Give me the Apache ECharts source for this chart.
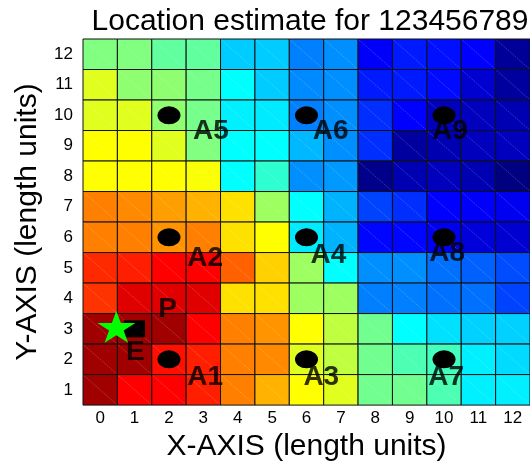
<!DOCTYPE html>
<html><head><meta charset="utf-8">
<script src="https://cdn.jsdelivr.net/npm/echarts@6/dist/echarts.min.js"></script>
<style>html,body{margin:0;padding:0;background:#fff}#c{width:530px;height:467px}</style>
</head><body><div id="c"></div>
<script>
// ---- data ----
const titleText = 'Location estimate for 123456789';
const xCategories = ['0','1','2','3','4','5','6','7','8','9','10','11','12'];
const yCategories = ['1','2','3','4','5','6','7','8','9','10','11','12'];
// jet-scale value per cell (0 = dark blue, 1 = dark red); rows from y=12 (top) to y=1 (bottom), columns x=0..12
const row12 = [0.50,0.50,0.47,0.47,0.325,0.325,0.25,0.265,0.12,0.15,0.14,0.125,0.025];
const row11 = [0.595,0.515,0.515,0.49,0.375,0.325,0.26,0.265,0.15,0.15,0.135,0.08,0.03];
const row10 = [0.595,0.595,0.515,0.49,0.36,0.355,0.25,0.265,0.17,0.125,0.06,0.06,0.05];
const row9  = [0.625,0.625,0.595,0.50,0.375,0.375,0.305,0.265,0.17,0.03,0.05,0.06,0.06];
const row8  = [0.625,0.625,0.625,0.62,0.375,0.42,0.265,0.275,0.01,0.05,0.06,0.05,0.0];
const row7  = [0.75,0.74,0.72,0.70,0.655,0.53,0.375,0.30,0.19,0.17,0.125,0.12,0.11];
const row6  = [0.75,0.75,0.73,0.75,0.655,0.625,0.355,0.30,0.13,0.13,0.11,0.09,0.08];
const row5  = [0.835,0.845,0.875,0.875,0.78,0.67,0.53,0.375,0.265,0.265,0.235,0.22,0.20];
const row4  = [0.825,0.905,0.905,0.905,0.655,0.655,0.53,0.53,0.25,0.25,0.235,0.235,0.19];
const row3  = [0.9675,0.9675,0.9675,0.875,0.75,0.73,0.625,0.5625,0.485,0.375,0.345,0.33,0.33];
const row2  = [0.9675,0.9675,0.86,0.845,0.75,0.74,0.595,0.5625,0.485,0.45,0.44,0.36,0.34];
const row1  = [0.9675,0.875,0.875,0.845,0.75,0.70,0.625,0.595,0.485,0.485,0.45,0.36,0.36];
const gridRows = [row12,row11,row10,row9,row8,row7,row6,row5,row4,row3,row2,row1];

const anchorNames = ['A1','A3','A7','A2','A4','A8','A5','A6','A9'];
const anchorX = [2,6,10,2,6,10,2,6,10];
const anchorY = [2,2,2,6,6,6,10,10,10];
const anchorLabelX = [3.05,6.43,10.06,3.05,6.64,10.09,3.22,6.70,10.17];
const anchorLabelY = [1.42,1.42,1.42,5.30,5.42,5.47,9.46,9.46,9.46];

const truePosX = [0.47], truePosY = [3.07];   // green star
const estPosX = [1.0], estPosY = [3.0];       // black square
const pointLabels = ['P','E'];
const pointLabelX = [1.96,1.02];
const pointLabelY = [3.65,2.24];

// ---- build ----
const heatData = [];
gridRows.forEach((row, r) => {
  const y = 12 - r;
  row.forEach((v, c) => heatData.push([Number(xCategories[c]), y, v]));
});
const jet = ['#000080','#0000FF','#0080FF','#00FFFF','#80FF80','#FFFF00','#FF8000','#FF0000','#800000'];
const FONT = '"Liberation Sans", Arial, sans-serif';
const starPath = 'path://M50,0 L61.2,34.5 L97.6,34.5 L68.2,55.9 L79.4,90.5 L50,69.1 L20.6,90.5 L31.8,55.9 L2.4,34.5 L38.8,34.5 Z';

const chart = echarts.init(document.getElementById('c'), null, {renderer:'canvas'});
chart.setOption({
  animation: false,
  backgroundColor: '#fff',
  textStyle: {fontFamily: FONT},
  title: {
    text: titleText, left: 305, top: 2, textAlign: 'center',
    textStyle: {fontSize: 30, fontWeight: 'normal', color: '#000', fontFamily: FONT}
  },
  grid: {left: 83, right: -1, top: 39, bottom: 49, containLabel: false},
  xAxis: [
    {type: 'category', data: xCategories, position: 'bottom', boundaryGap: true,
     axisLine: {show: false}, axisTick: {show: false}, splitLine: {show: false},
     axisLabel: {fontSize: 17, color: '#000', margin: 5, fontFamily: FONT},
     name: 'X-AXIS (length units)', nameLocation: 'middle', nameGap: 22,
     nameTextStyle: {fontSize: 30, color: '#000', fontFamily: FONT}},
    {type: 'value', min: -0.5, max: 12.5, show: false}
  ],
  yAxis: [
    {type: 'category', data: yCategories, position: 'left', boundaryGap: true,
     axisLine: {show: false}, axisTick: {show: false}, splitLine: {show: false},
     axisLabel: {fontSize: 17, color: '#000', margin: 10, fontFamily: FONT},
     name: 'Y-AXIS (length units)', nameLocation: 'middle', nameGap: 38, nameRotate: 90,
     nameTextStyle: {fontSize: 30, color: '#000', fontFamily: FONT}},
    {type: 'value', min: 0.5, max: 12.5, show: false}
  ],
  visualMap: {
    show: false, type: 'continuous', min: 0, max: 1, dimension: 2, seriesIndex: 0,
    inRange: {color: jet}
  },
  series: [
    {
      type: 'custom', xAxisIndex: 1, yAxisIndex: 1, data: heatData, z: 1,
      renderItem: function (params, api) {
        const x = api.value(0), y = api.value(1);
        const p0 = api.coord([x - 0.5, y + 0.5]);
        const p1 = api.coord([x + 0.5, y - 0.5]);
        return {
          type: 'group',
          children: [
            {type: 'rect', shape: {x: p0[0], y: p0[1], width: p1[0] - p0[0], height: p1[1] - p0[1]},
             style: {fill: api.visual('color'), stroke: '#111', lineWidth: 1}},
            {type: 'line', shape: {x1: p0[0] + 1, y1: p0[1] + 1, x2: p1[0] - 1, y2: p1[1] - 1},
             style: {stroke: 'rgba(255,255,255,0.4)', lineWidth: 0.5, lineDash: [2, 1]}}
          ]
        };
      }
    },
    {
      type: 'scatter', xAxisIndex: 1, yAxisIndex: 1, z: 3, symbol: 'circle', symbolSize: [23, 18],
      itemStyle: {color: '#000', opacity: 1}, silent: true,
      data: anchorX.map((x, i) => [x, anchorY[i]])
    },
    {
      type: 'scatter', xAxisIndex: 1, yAxisIndex: 1, z: 4, symbolSize: 0, silent: true,
      label: {show: true, position: 'inside', formatter: p => p.data[2], fontSize: 28, fontWeight: 'bold', color: '#000', fontFamily: FONT},
      data: anchorLabelX.map((x, i) => [x, anchorLabelY[i], anchorNames[i]])
    },
    {
      type: 'scatter', xAxisIndex: 1, yAxisIndex: 1, z: 4, symbolSize: 0, silent: true,
      label: {show: true, position: 'inside', formatter: p => p.data[2], fontSize: 28, fontWeight: 'bold', color: '#000', fontFamily: FONT},
      data: pointLabelX.map((x, i) => [x, pointLabelY[i], pointLabels[i]])
    },
    {
      type: 'scatter', xAxisIndex: 1, yAxisIndex: 1, z: 5, symbol: 'rect', symbolSize: [21, 17],
      itemStyle: {color: '#000', opacity: 1}, silent: true,
      data: estPosX.map((x, i) => [x, estPosY[i]])
    },
    {
      type: 'scatter', xAxisIndex: 1, yAxisIndex: 1, z: 6, symbol: starPath, symbolSize: [38, 32],
      itemStyle: {color: '#00FF00', opacity: 1}, silent: true,
      data: truePosX.map((x, i) => [x, truePosY[i]])
    }
  ]
});
</script>
</body></html>
